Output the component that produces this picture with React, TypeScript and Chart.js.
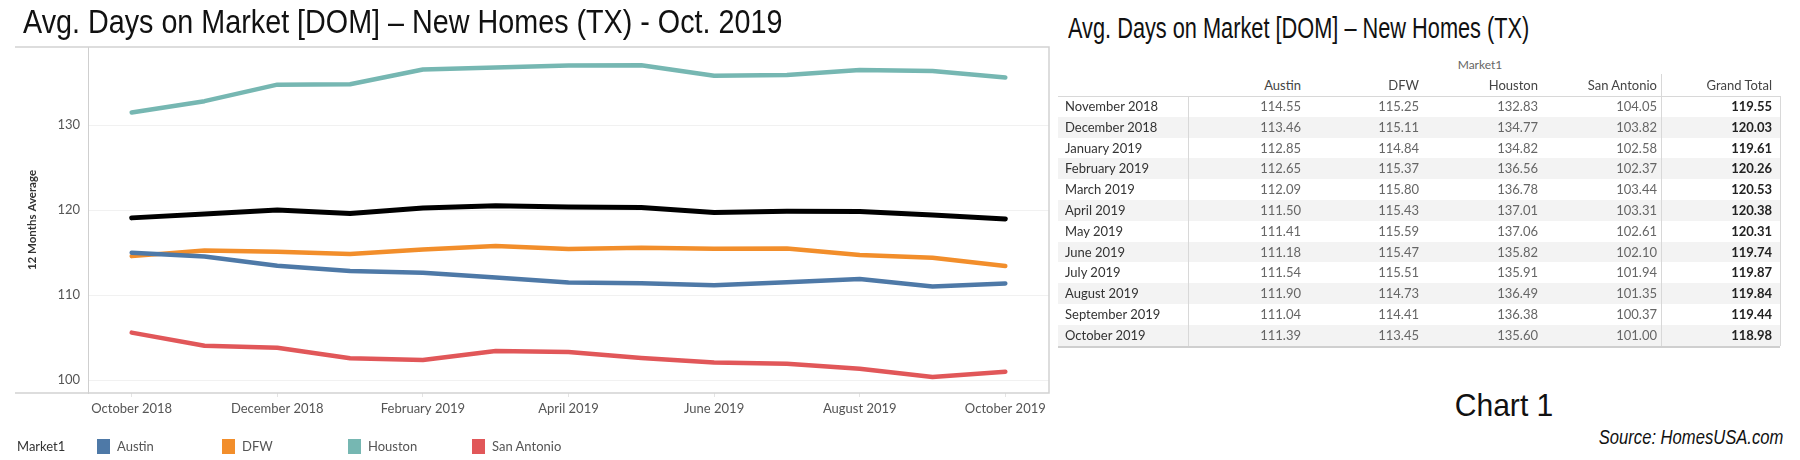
import React, { useEffect, useRef } from "react";
import { Chart, registerables } from "chart.js";

Chart.register(...registerables);

const months = [
  "October 2018", "November 2018", "December 2018", "January 2019", "February 2019",
  "March 2019", "April 2019", "May 2019", "June 2019", "July 2019", "August 2019",
  "September 2019", "October 2019",
];
const austin = [115.0, 114.55, 113.46, 112.85, 112.65, 112.09, 111.5, 111.41, 111.18, 111.54, 111.9, 111.04, 111.39];
const dfw = [114.6, 115.25, 115.11, 114.84, 115.37, 115.8, 115.43, 115.59, 115.47, 115.51, 114.73, 114.41, 113.45];
const houston = [131.5, 132.83, 134.77, 134.82, 136.56, 136.78, 137.01, 137.06, 135.82, 135.91, 136.49, 136.38, 135.6];
const sanAntonio = [105.6, 104.05, 103.82, 102.58, 102.37, 103.44, 103.31, 102.61, 102.1, 101.94, 101.35, 100.37, 101.0];
const grandTotal = [119.1, 119.55, 120.03, 119.61, 120.26, 120.53, 120.38, 120.31, 119.74, 119.87, 119.84, 119.44, 118.98];

const yTicks = [100, 110, 120, 130];
const xTickLabels = ["October 2018", "December 2018", "February 2019", "April 2019", "June 2019", "August 2019", "October 2019"];
const marketNames = ["Austin", "DFW", "Houston", "San Antonio"];
const marketColors = ["#4E79A7", "#F28E2B", "#76B7B2", "#E15759"];
const tableMonths = months.slice(1);

const FONT = "Lato, 'Open Sans', sans-serif";
const NARROW = "'Liberation Sans Narrow', 'Arial Narrow', 'Liberation Sans', Arial, sans-serif";

const panelPlugin = {
  id: "panelBorder",
  afterDraw(chart: any) {
    const { ctx, chartArea } = chart;
    ctx.save();
    ctx.strokeStyle = "#d2d2d2";
    ctx.lineWidth = 1.5;
    ctx.beginPath();
    ctx.moveTo(15, chartArea.top);
    ctx.lineTo(chartArea.right, chartArea.top);
    ctx.lineTo(chartArea.right, chartArea.bottom);
    ctx.lineTo(15, chartArea.bottom);
    ctx.stroke();
    ctx.restore();
  },
};

function LineChart() {
  const ref = useRef<HTMLCanvasElement>(null);
  useEffect(() => {
    if (!ref.current) return;
    const series = [grandTotal, austin, dfw, houston, sanAntonio];
    const colors = ["#000000", ...marketColors];
    const names = ["Grand Total", ...marketNames];
    const chart = new Chart(ref.current, {
      type: "line",
      data: {
        datasets: series.map((s, k) => ({
          label: names[k],
          data: s.map((v, i) => ({ x: i, y: v })),
          borderColor: colors[k],
          backgroundColor: colors[k],
          borderWidth: k === 0 ? 5 : 4.5,
          pointRadius: 0,
          tension: 0,
          borderCapStyle: "round",
          borderJoinStyle: "round",
        })),
      },
      options: {
        animation: false,
        responsive: false,
        maintainAspectRatio: false,
        layout: { padding: { left: 0, top: 47, right: 11, bottom: 37 } },
        plugins: { legend: { display: false }, tooltip: { enabled: false } },
        scales: {
          x: {
            type: "linear",
            min: -0.6,
            max: 12.6,
            afterBuildTicks: (s: any) => {
              s.ticks = xTickLabels.map((l) => ({ value: months.indexOf(l) }));
            },
            afterFit: (s: any) => {
              s.height = 30;
            },
            ticks: {
              callback: (v: any) => months[v as number],
              font: { family: FONT, size: 13 },
              color: "#555",
              padding: 4,
              maxRotation: 0,
              autoSkip: false,
            },
            grid: { drawOnChartArea: false, tickLength: 4, color: "#e4e4e4" },
            border: { display: false },
          },
          y: {
            min: 98.5,
            max: 139.2,
            afterBuildTicks: (s: any) => {
              s.ticks = yTicks.map((v) => ({ value: v }));
            },
            afterFit: (s: any) => {
              s.width = 88;
            },
            ticks: {
              font: { family: FONT, size: 13 },
              color: "#555",
              padding: 8,
            },
            grid: { color: "#f1f1f1", drawTicks: false },
            border: { color: "#cfcfcf", width: 1 },
            title: {
              display: true,
              text: "12 Months Average",
              font: { family: FONT, size: 11.5, weight: "bold" },
              color: "#333",
              padding: { top: 25, bottom: 0 },
            },
          },
        },
      },
      plugins: [panelPlugin],
    });
    return () => chart.destroy();
  }, []);
  return (
    <canvas
      ref={ref}
      width={1060}
      height={460}
      style={{ position: "absolute", left: 0, top: 0, width: 1060, height: 460 }}
    />
  );
}

export default function App() {
  const colRight = [1301, 1419, 1538, 1657, 1772];
  const headers = [...marketNames, "Grand Total"];
  const tableSeries = [austin, dfw, houston, sanAntonio, grandTotal];
  const rowTop = 96;
  const rowH = 20.8;
  return (
    <div style={{ position: "absolute", left: 0, top: 0, width: 1800, height: 460, background: "#fff", overflow: "hidden" }}>
      <LineChart />
      <div style={{ position: "absolute", left: 23, top: 1, fontFamily: NARROW, fontSize: 34, color: "#111", whiteSpace: "nowrap", lineHeight: "40px", transform: "scaleX(0.845)", transformOrigin: "left center" }}>
        Avg. Days on Market [DOM] – New Homes (TX) - Oct. 2019
      </div>
      {/* legend */}
      <div style={{ position: "absolute", left: 17, top: 437, fontFamily: FONT, fontSize: 13, color: "#333", lineHeight: "18px" }}>Market1</div>
      {marketNames.map((n, i) => (
        <div key={n} style={{ position: "absolute", left: [97, 222, 348, 472][i], top: 437, display: "flex", alignItems: "center", fontFamily: FONT, fontSize: 13, color: "#555", lineHeight: "18px", whiteSpace: "nowrap" }}>
          <span style={{ display: "inline-block", width: 13, height: 15, background: marketColors[i], marginRight: 7 }} />
          {n}
        </div>
      ))}
      {/* right title */}
      <div style={{ position: "absolute", left: 1068, top: 10, fontFamily: NARROW, fontSize: 29, color: "#111", whiteSpace: "nowrap", lineHeight: "36px", transform: "scaleX(0.75)", transformOrigin: "left center" }}>
        Avg. Days on Market [DOM] – New Homes (TX)
      </div>
      {/* table */}
      <div style={{ position: "absolute", left: 1380, width: 200, top: 57, textAlign: "center", fontFamily: FONT, fontSize: 12, color: "#666", lineHeight: "16px" }}>Market1</div>
      {headers.map((h, i) => (
        <div key={h} style={{ position: "absolute", left: colRight[i] - 150, width: 150, top: 77, textAlign: "right", fontFamily: FONT, fontSize: 13, color: "#444", lineHeight: "17px" }}>{h}</div>
      ))}
      {tableMonths.map((m, r) => (
        <div key={m} style={{ position: "absolute", left: 1058, width: 722, top: rowTop + r * rowH, height: rowH, background: r % 2 === 1 ? "#f3f3f3" : "#fff" }} />
      ))}
      <div style={{ position: "absolute", left: 1058, width: 722, top: rowTop, height: 1, background: "#d8d8d8" }} />
      <div style={{ position: "absolute", left: 1058, width: 722, top: rowTop + 12 * rowH, height: 2, background: "#cfcfcf" }} />
      <div style={{ position: "absolute", left: 1188, width: 1, top: rowTop, height: 12 * rowH, background: "#d8d8d8" }} />
      <div style={{ position: "absolute", left: 1661, width: 1, top: 74, height: 12 * rowH + rowTop - 74, background: "#d8d8d8" }} />
      <div style={{ position: "absolute", left: 1780, width: 1, top: rowTop, height: 12 * rowH, background: "#d8d8d8" }} />
      {tableMonths.map((m, r) => (
        <React.Fragment key={m}>
          <div style={{ position: "absolute", left: 1065, top: rowTop + r * rowH, lineHeight: `${rowH}px`, fontFamily: FONT, fontSize: 13, color: "#333", whiteSpace: "nowrap" }}>{m}</div>
          {tableSeries.map((s, c) => (
            <div key={c} style={{ position: "absolute", left: colRight[c] - 100, width: 100, textAlign: "right", top: rowTop + r * rowH, lineHeight: `${rowH}px`, fontFamily: FONT, fontSize: 13, color: c === 4 ? "#222" : "#666", fontWeight: c === 4 ? "bold" : "normal" }}>
              {s[r + 1].toFixed(2)}
            </div>
          ))}
        </React.Fragment>
      ))}
      <div style={{ position: "absolute", left: 1404, width: 200, top: 385, textAlign: "center", fontFamily: NARROW, fontSize: 32, color: "#111", lineHeight: "40px", transform: "scaleX(0.94)", transformOrigin: "center center" }}>Chart 1</div>
      <div style={{ position: "absolute", right: 17, top: 425, fontFamily: NARROW, fontStyle: "italic", fontSize: 20, color: "#111", lineHeight: "24px", whiteSpace: "nowrap", transform: "scaleX(0.83)", transformOrigin: "right center" }}>Source: HomesUSA.com</div>
    </div>
  );
}
